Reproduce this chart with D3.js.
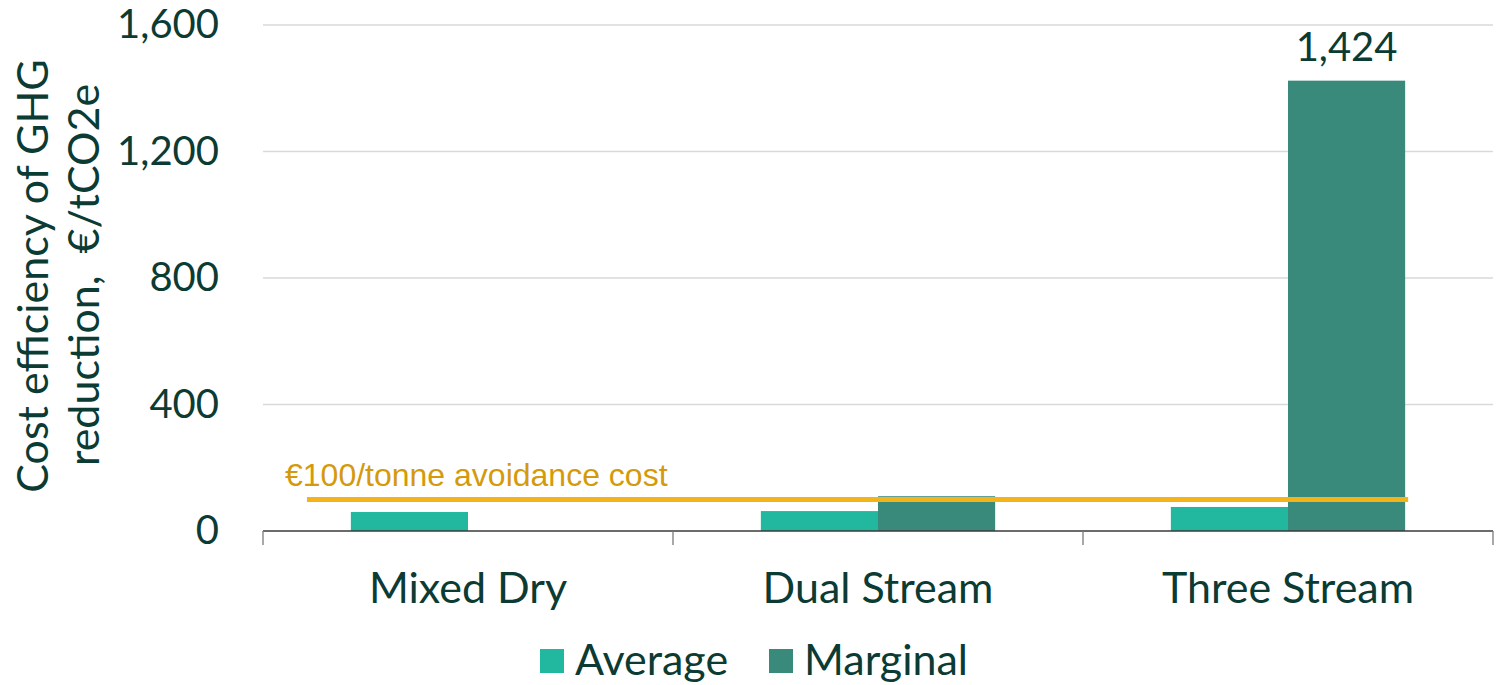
<!DOCTYPE html>
<html>
<head>
<meta charset="utf-8">
<script src="https://cdn.jsdelivr.net/npm/d3@7"></script>
<style>
  body { margin: 0; background: #fff; }
  svg { display: block; }
</style>
</head>
<body>
<svg id="chart" width="1503" height="685"></svg>
<script>
const categories = ["Mixed Dry", "Dual Stream", "Three Stream"];
const seriesNames = ["Average", "Marginal"];
const averageValues = [60, 63, 76];
const marginalValues = [null, 110, 1424];
const yTicks = [0, 400, 800, 1200, 1600];
const thresholdValue = 100;
const thresholdLabel = "€100/tonne avoidance cost";

const textColor = "#0b3b33";
const colors = { Average: "#22b8a0", Marginal: "#3a8a7c" };
const lineColor = "#f5b31a";
const labelGold = "#d49a0c";
const font = "Lato, 'Open Sans', sans-serif";

const margin = { left: 263, right: 10, top: 25, bottom: 154 };
const width = 1503, height = 685;

const svg = d3.select("#chart");

const x = d3.scaleBand()
    .domain(categories)
    .range([margin.left, width - margin.right])
    .padding(0);

const xInner = d3.scaleBand()
    .domain(seriesNames)
    .range([0, x.bandwidth()])
    .paddingOuter(0.75)
    .paddingInner(0);

const y = d3.scaleLinear()
    .domain([0, 1600])
    .range([height - margin.bottom, margin.top]);

// gridlines
svg.append("g")
    .selectAll("line")
    .data(yTicks.filter(d => d > 0))
    .enter()
    .append("line")
    .attr("x1", margin.left)
    .attr("x2", width - margin.right)
    .attr("y1", d => y(d))
    .attr("y2", d => y(d))
    .attr("stroke", "#d9d9d9")
    .attr("stroke-width", 1.3);

// y tick labels
svg.append("g")
    .selectAll("text")
    .data(yTicks)
    .enter()
    .append("text")
    .attr("x", 219)
    .attr("y", d => y(d) + 13)
    .attr("text-anchor", "end")
    .attr("fill", textColor)
    .attr("font-family", font)
    .attr("font-size", "40px")
    .text(d => d3.format(",")(d));

// y axis title (two lines, rotated)
const yTitle = svg.append("text")
    .attr("transform", "rotate(-90)")
    .attr("text-anchor", "middle")
    .attr("fill", textColor)
    .attr("font-family", font)
    .attr("font-size", "43px")
    .style("white-space", "pre");
yTitle.append("tspan").attr("x", -276).attr("y", 48).text("Cost efficiency of GHG");
yTitle.append("tspan").attr("x", -275).attr("y", 99).text("reduction,  €/tCO2e");

// bars
const rows = categories.map((c, i) => ({
    category: c,
    values: [
        { key: "Average", value: averageValues[i] },
        { key: "Marginal", value: marginalValues[i] }
    ]
}));

const groups = svg.append("g")
    .selectAll("g")
    .data(rows)
    .enter()
    .append("g")
    .attr("transform", d => `translate(${ x(d.category) },0)`);

groups.selectAll("rect")
    .data(d => d.values.filter(v => v.value != null))
    .enter()
    .append("rect")
    .attr("x", d => xInner(d.key))
    .attr("width", xInner.bandwidth())
    .attr("y", d => y(d.value))
    .attr("height", d => y(0) - y(d.value))
    .attr("fill", d => colors[d.key]);

// data label on the tall bar
svg.append("text")
    .attr("x", x("Three Stream") + xInner("Marginal") + xInner.bandwidth() / 2)
    .attr("y", y(marginalValues[2]) - 20)
    .attr("text-anchor", "middle")
    .attr("fill", textColor)
    .attr("font-family", font)
    .attr("font-size", "40px")
    .text(d3.format(",")(marginalValues[2]));

// x axis
const baseY = y(0);
svg.append("line")
    .attr("x1", margin.left)
    .attr("x2", width - margin.right)
    .attr("y1", baseY)
    .attr("y2", baseY)
    .attr("stroke", "#3a3a3a")
    .attr("stroke-width", 1.3);

const tickXs = categories.map(c => x(c)).concat([x(categories[categories.length - 1]) + x.bandwidth()]);
svg.append("g")
    .selectAll("line")
    .data(tickXs)
    .enter()
    .append("line")
    .attr("x1", d => d)
    .attr("x2", d => d)
    .attr("y1", baseY)
    .attr("y2", baseY + 14)
    .attr("stroke", "#7a7a7a")
    .attr("stroke-width", 1.3);

svg.append("g")
    .selectAll("text")
    .data(categories)
    .enter()
    .append("text")
    .attr("x", d => x(d) + x.bandwidth() / 2)
    .attr("y", 603)
    .attr("text-anchor", "middle")
    .attr("fill", textColor)
    .attr("font-family", font)
    .attr("font-size", "43px")
    .text(d => d);

// threshold line
svg.append("line")
    .attr("x1", 307)
    .attr("x2", x("Three Stream") + xInner("Marginal") + xInner.bandwidth() + 3)
    .attr("y1", y(thresholdValue))
    .attr("y2", y(thresholdValue))
    .attr("stroke", lineColor)
    .attr("stroke-width", 5);

svg.append("text")
    .attr("x", 285)
    .attr("y", 486)
    .attr("fill", labelGold)
    .attr("font-family", "'Liberation Sans', Arial, sans-serif")
    .attr("font-size", "32px")
    .text(thresholdLabel);

// legend
const legendX = [540, 769];
const legend = svg.append("g")
    .selectAll("g")
    .data(seriesNames)
    .enter()
    .append("g")
    .attr("transform", (d, i) => `translate(${ legendX[i] },649)`);

legend.append("rect")
    .attr("width", 24)
    .attr("height", 24)
    .attr("fill", d => colors[d]);

legend.append("text")
    .attr("x", 35)
    .attr("y", 26)
    .attr("fill", textColor)
    .attr("font-family", font)
    .attr("font-size", "43px")
    .text(d => d);
</script>
</body>
</html>
